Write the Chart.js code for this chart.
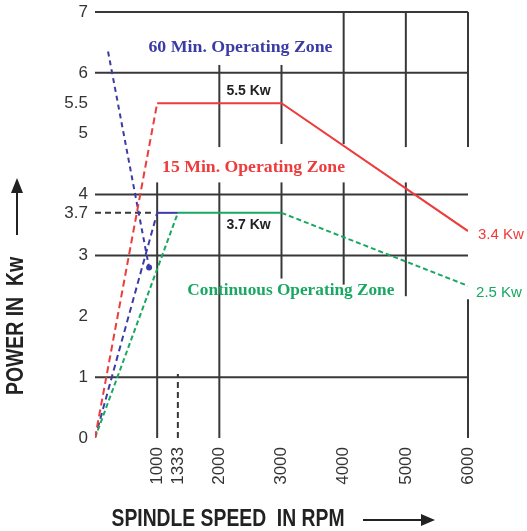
<!DOCTYPE html>
<html>
<head>
<meta charset="utf-8">
<script src="https://cdn.jsdelivr.net/npm/chart.js@4.4.1/dist/chart.umd.min.js"></script>
<style>
  html, body { margin: 0; padding: 0; background: #fff; }
  #wrap { width: 527px; height: 531px; }
</style>
</head>
<body>
<div id="wrap"><canvas id="mycanvas" width="527" height="531"></canvas></div>
<script>
// tick labels
var xTicks = [1000, 1333, 2000, 3000, 4000, 5000, 6000];
var yTicks = [0, 1, 2, 3, 3.7, 4, 5, 5.5, 6, 7];

// 15 min zone (red)
var rpm15 = [0, 1000, 3000, 6000];
var kw15 = [0, 5.5, 5.5, 3.4];

// continuous zone (green)
var rpmCont = [0, 1333, 3000, 6000];
var kwCont = [0, 3.7, 3.7, 2.5];

// 60 min zone (blue)
var rpm60 = [0, 1000, 1333];
var kw60 = [0, 3.7, 3.7];
var rpm60b = [210, 870];
var kw60b = [6.35, 2.8];

// grid segments: [x1, y1, x2, y2]
var gridSolid = [
    [0, 7, 6000, 7], [0, 6, 6000, 6], [0, 4, 6000, 4], [0, 3, 6000, 3], [0, 1, 6000, 1],
    [1000, 0, 1000, 4.2],
    [2000, 0, 2000, 4.2], [2000, 4.78, 2000, 6.13],
    [3000, 2.62, 3000, 4.2], [3000, 4.83, 3000, 6.13],
    [4000, 2.52, 4000, 4.2], [4000, 4.83, 4000, 7],
    [5000, 2.33, 5000, 4.2], [5000, 4.78, 5000, 7],
    [6000, 0, 6000, 2.28], [6000, 4.78, 6000, 7]
];
var gridDashed = [[0, 3.7, 900, 3.7], [1333, 0, 1333, 1.05]];

function pts(xs, ys) {
    var out = [];
    for (var i in xs) out.push({x: xs[i], y: ys[i]});
    return out;
}

var RED = "#ee3b3b", GREEN = "#19a862", BLUE = "#3b3ba6";

// draw text squeezed/stretched to a given width, centred on (px, py)
function fitText(c, s, px, py, w, font, color, angle) {
    c.save();
    c.font = font;
    c.fillStyle = color;
    c.textAlign = 'center';
    c.textBaseline = 'middle';
    c.translate(px, py);
    if (angle) c.rotate(angle);
    c.scale(w / c.measureText(s).width, 1);
    c.fillText(s, 0, 0);
    c.restore();
}

var extras = {
    id: 'extras',
    beforeDatasetsDraw: function(chart) {
        var c = chart.ctx, xs = chart.scales.x, ys = chart.scales.y;
        c.save();
        c.strokeStyle = "#383838";
        c.lineWidth = 2;
        gridSolid.forEach(function(s) {
            c.beginPath();
            c.moveTo(xs.getPixelForValue(s[0]), ys.getPixelForValue(s[1]));
            c.lineTo(xs.getPixelForValue(s[2]), ys.getPixelForValue(s[3]));
            c.stroke();
        });
        c.setLineDash([6, 4]);
        gridDashed.forEach(function(s) {
            c.beginPath();
            c.moveTo(xs.getPixelForValue(s[0]), ys.getPixelForValue(s[1]));
            c.lineTo(xs.getPixelForValue(s[2]), ys.getPixelForValue(s[3]));
            c.stroke();
        });
        c.restore();
    },
    afterDatasetsDraw: function(chart) {
        var c = chart.ctx, xs = chart.scales.x, ys = chart.scales.y;
        function txt(s, x, y, font, color, align) {
            c.font = font;
            c.fillStyle = color;
            c.textAlign = align || 'center';
            c.textBaseline = 'middle';
            c.fillText(s, xs.getPixelForValue(x), ys.getPixelForValue(y));
        }
        function zone(s, x, y, w, color) {
            fitText(c, s, xs.getPixelForValue(x), ys.getPixelForValue(y), w, "bold 16px 'Liberation Serif'", color);
        }
        c.save();
        zone("60 Min. Operating Zone", 2340, 6.41, 184, BLUE);
        zone("15 Min. Operating Zone", 2550, 4.44, 183, RED);
        zone("Continuous Operating Zone", 3150, 2.41, 207, GREEN);
        txt("5.5 Kw", 2470, 5.7, "bold 14px 'Liberation Sans'", "#222");
        txt("3.7 Kw", 2470, 3.49, "bold 14px 'Liberation Sans'", "#222");
        txt("3.4 Kw", 6160, 3.33, "15px 'Liberation Sans'", RED, 'left');
        txt("2.5 Kw", 6130, 2.39, "15px 'Liberation Sans'", GREEN, 'left');

        // axis titles with arrows
        var tfont = "bold 23px 'Liberation Sans'";
        fitText(c, "SPINDLE SPEED  IN RPM", 228, 520, 233, tfont, "#222");
        fitText(c, "POWER IN  Kw", 17, 326, 138, tfont, "#222", -Math.PI / 2);
        c.fillStyle = "#222";
        c.strokeStyle = "#222";
        c.lineWidth = 2;
        c.beginPath(); c.moveTo(363, 520); c.lineTo(424, 520); c.stroke();
        c.beginPath(); c.moveTo(435, 520); c.lineTo(421, 514); c.lineTo(421, 526); c.closePath(); c.fill();
        c.beginPath(); c.moveTo(17, 235); c.lineTo(17, 190); c.stroke();
        c.beginPath(); c.moveTo(17, 178); c.lineTo(11, 193); c.lineTo(23, 193); c.closePath(); c.fill();
        c.restore();
    }
};

var segDash = function(dashedIdx, dash) {
    return function(ctx) { return dashedIdx.indexOf(ctx.p0DataIndex) >= 0 ? dash : undefined; };
};

var chartdata = {
    datasets: [{
        label: "15 Min. Operating Zone",
        data: pts(rpm15, kw15),
        borderColor: RED,
        borderWidth: 2,
        pointRadius: 0,
        segment: { borderDash: segDash([0], [7, 4]) }
    }, {
        label: "Continuous Operating Zone",
        data: pts(rpmCont, kwCont),
        borderColor: GREEN,
        borderWidth: 2,
        pointRadius: 0,
        segment: { borderDash: segDash([0, 2], [5, 3]) }
    }, {
        label: "60 Min. Operating Zone",
        data: pts(rpm60, kw60),
        borderColor: BLUE,
        borderWidth: 2,
        pointRadius: 0,
        segment: { borderDash: segDash([0], [6, 4]) }
    }, {
        label: "60 Min. drop",
        data: pts(rpm60b, kw60b),
        borderColor: BLUE,
        backgroundColor: BLUE,
        borderWidth: 2,
        borderDash: [5, 4],
        pointRadius: [0, 3],
        pointBorderWidth: 0
    }]
};

var ctx = document.getElementById("mycanvas");
var powerChart = new Chart(ctx, {
    type: 'line',
    data: chartdata,
    options: {
        responsive: false,
        animation: false,
        layout: { padding: { left: 0, right: 59, top: 12, bottom: 0 } },
        plugins: { legend: { display: false }, tooltip: { enabled: false } },
        scales: {
            x: {
                type: 'linear',
                min: 0,
                max: 6000,
                grid: { display: false, drawTicks: false },
                border: { display: false },
                afterBuildTicks: function(axis) { axis.ticks = xTicks.map(function(v) { return {value: v}; }); },
                afterFit: function(axis) { axis.height = 93; },
                ticks: {
                    minRotation: 90,
                    maxRotation: 90,
                    padding: 9,
                    color: "#333",
                    font: { family: "'Liberation Sans'", size: 17 },
                    callback: function(v) { return String(v); }
                }
            },
            y: {
                min: 0,
                max: 7,
                grid: { display: false, drawTicks: false },
                border: { display: false },
                afterBuildTicks: function(axis) { axis.ticks = yTicks.map(function(v) { return {value: v}; }); },
                afterFit: function(axis) { axis.width = 95; axis.paddingTop = 0; axis.paddingBottom = 0; },
                ticks: {
                    padding: 7,
                    color: "#333",
                    font: { family: "'Liberation Sans'", size: 17 },
                    callback: function(v) { return String(v); }
                }
            }
        }
    },
    plugins: [extras]
});
</script>
</body>
</html>
